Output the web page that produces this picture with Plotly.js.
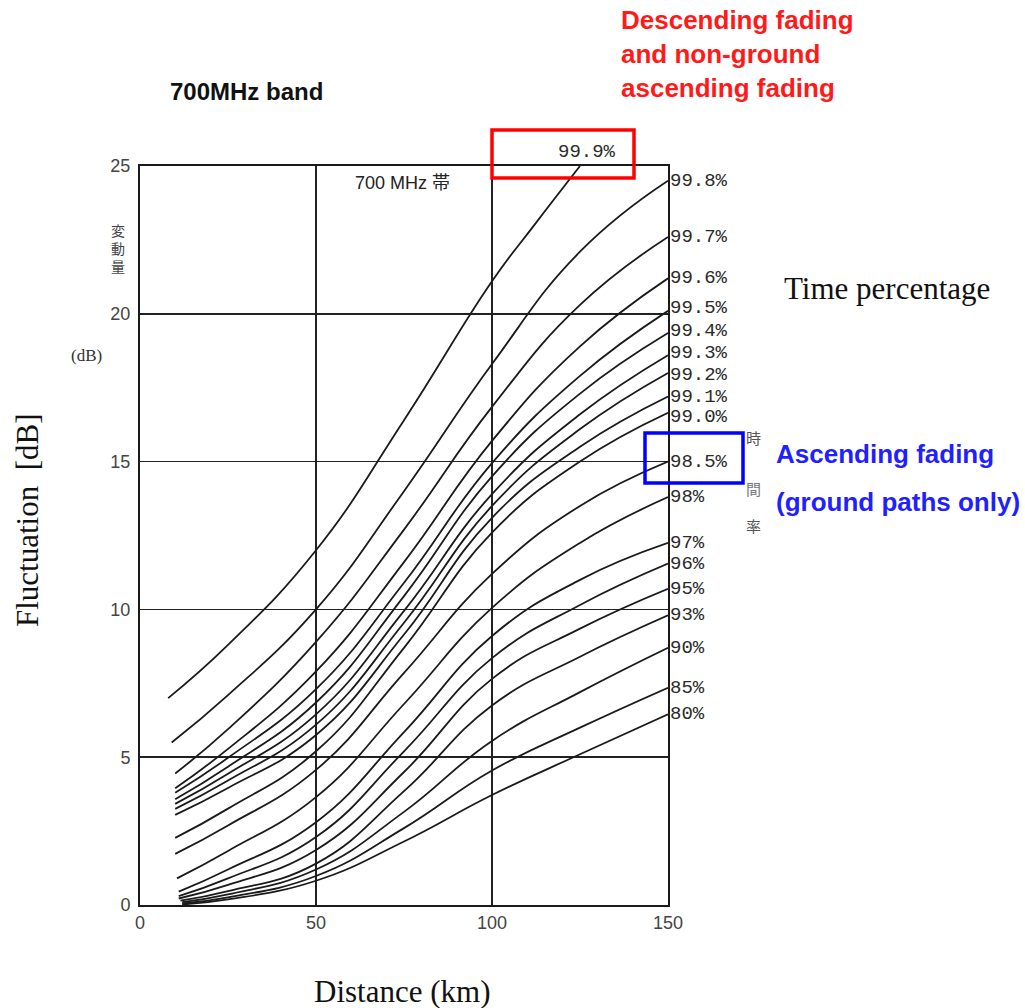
<!DOCTYPE html>
<html>
<head>
<meta charset="utf-8">
<script src="https://cdn.plot.ly/plotly-3.0.1.min.js"></script>
<style>html,body{margin:0;padding:0;background:#fff;}#chart{width:1025px;height:1008px;}</style>
</head>
<body>
<div id="chart"></div>
<script>
// ---- data ----
const percentLabels = ['99.9%','99.8%','99.7%','99.6%','99.5%','99.4%','99.3%','99.2%','99.1%','99.0%','98.5%','98%','97%','96%','95%','93%','90%','85%','80%'];
const startKm = [8, 9, 10, 10, 10, 10, 10, 10, 10, 10, 10, 10.5, 11, 11, 11, 11.5, 12, 12, 12];
const distKm = [25, 50, 75, 100, 125, 150];
const dist999 = [8, 25, 50, 75, 100, 112, 125];

const fl999 = [7.0, 8.8, 12.0, 16.4, 21.1, 23.0, 25.0];
const fl998 = [5.5, 7.1, 10.0, 14.0, 18.3, 22.1, 24.5];
const fl997 = [4.45, 5.95, 8.9, 12.7, 16.85, 20.3, 22.6];
const fl996 = [3.95, 5.28, 7.9, 11.6, 15.7, 18.9, 21.2];
const fl995 = [3.8, 4.98, 7.3, 10.9, 14.95, 17.9, 20.1];
const fl994 = [3.58, 4.68, 6.85, 10.45, 14.5, 17.3, 19.35];
const fl993 = [3.42, 4.44, 6.45, 9.95, 13.9, 16.6, 18.6];
const fl992 = [3.25, 4.21, 6.1, 9.55, 13.5, 16.1, 18.0];
const fl991 = [3.05, 3.96, 5.75, 9.15, 13.1, 15.5, 17.2];
const fl990 = [2.27, 3.26, 5.2, 8.7, 12.6, 15.0, 16.65];
const fl985 = [1.73, 2.69, 4.57, 7.85, 11.2, 13.5, 15.0];
const fl980 = [0.9, 1.83, 3.65, 6.8, 10.05, 12.25, 13.8];
const fl970 = [0.45, 1.2, 2.8, 5.85, 9.1, 11.0, 12.25];
const fl960 = [0.3, 0.9, 2.3, 5.2, 8.35, 10.15, 11.55];
const fl950 = [0.22, 0.68, 1.86, 4.5, 7.65, 9.35, 10.7];
const fl930 = [0.15, 0.47, 1.4, 3.85, 6.75, 8.4, 9.8];
const fl900 = [0.1, 0.36, 1.2, 3.15, 5.55, 7.2, 8.7];
const fl850 = [0.05, 0.26, 0.98, 2.6, 4.55, 6.0, 7.35];
const fl800 = [0.02, 0.19, 0.82, 2.15, 3.72, 5.1, 6.45];

const seriesVals = [fl999, fl998, fl997, fl996, fl995, fl994, fl993, fl992, fl991, fl990, fl985, fl980, fl970, fl960, fl950, fl930, fl900, fl850, fl800];

// ---- build traces ----
const traces = seriesVals.map((vals, i) => ({
  type: 'scatter',
  mode: 'lines',
  x: i === 0 ? dist999 : [startKm[i]].concat(distKm),
  y: vals,
  name: percentLabels[i],
  line: {color: '#1a1a1a', width: 1.8, shape: 'spline', smoothing: 1.3},
  hoverinfo: 'x+y+name'
}));

// small label nudges (pixels) so crowded right-edge labels do not collide
const labelNudge = {'99.5%': 3, '99.4%': 2, '99.3%': 2, '99.2%': -2, '99.0%': -4};

const monoFont = {family: 'Liberation Mono, DejaVu Sans Mono, monospace', size: 19, color: '#2a2a2a'};
const annotations = [];
seriesVals.forEach((vals, i) => {
  if (i === 0) {
    annotations.push({x: 127, y: 25, xref: 'x', yref: 'y', text: percentLabels[0], showarrow: false,
      xanchor: 'center', yanchor: 'middle', yshift: 14, font: monoFont});
  } else {
    annotations.push({x: 150, y: vals[vals.length - 1], xref: 'x', yref: 'y', text: percentLabels[i], showarrow: false,
      xanchor: 'left', yanchor: 'middle', xshift: 0, yshift: labelNudge[percentLabels[i]] || 0, font: monoFont});
  }
});

const px = v => (v - 140) / 528;
const py = v => (905 - v) / 739;

annotations.push(
  {x: px(246), y: py(92), xref: 'paper', yref: 'paper', text: '<b>700MHz band</b>', showarrow: false,
   font: {family: 'Liberation Sans, Arial, sans-serif', size: 24, color: '#111'}, xanchor: 'center', yanchor: 'middle'},
  {x: px(619), y: py(54), xref: 'paper', yref: 'paper', text: '<b>Descending fading<br>and non-ground<br>ascending fading</b>', showarrow: false,
   align: 'left', xanchor: 'left', yanchor: 'middle',
   font: {family: 'Liberation Sans, Arial, sans-serif', size: 26, color: '#ff1a1a'}},
  {x: px(774), y: py(454), xref: 'paper', yref: 'paper', text: '<b>Ascending fading</b>', showarrow: false,
   xanchor: 'left', yanchor: 'middle', font: {family: 'Liberation Sans, Arial, sans-serif', size: 26, color: '#1f1fff'}},
  {x: px(774), y: py(502), xref: 'paper', yref: 'paper', text: '<b>(ground paths only)</b>', showarrow: false,
   xanchor: 'left', yanchor: 'middle', font: {family: 'Liberation Sans, Arial, sans-serif', size: 26, color: '#1f1fff'}},
  {x: px(782), y: py(288), xref: 'paper', yref: 'paper', text: 'Time percentage', showarrow: false,
   xanchor: 'left', yanchor: 'middle', font: {family: 'Liberation Serif, Times New Roman, serif', size: 31, color: '#111'}},
  {x: px(402), y: py(992), xref: 'paper', yref: 'paper', text: 'Distance (km)', showarrow: false,
   xanchor: 'center', yanchor: 'middle', font: {family: 'Liberation Serif, Times New Roman, serif', size: 31, color: '#111'}},
  {x: px(27), y: py(520), xref: 'paper', yref: 'paper', text: 'Fluctuation\u00a0\u00a0[dB]', showarrow: false, textangle: -90,
   xanchor: 'center', yanchor: 'middle', font: {family: 'Liberation Serif, Times New Roman, serif', size: 31, color: '#111'}},
  {x: px(86), y: py(355), xref: 'paper', yref: 'paper', text: '(dB)', showarrow: false,
   xanchor: 'center', yanchor: 'middle', font: {family: 'Liberation Serif, Times New Roman, serif', size: 17, color: '#333'}},
  {x: px(118), y: py(248), xref: 'paper', yref: 'paper', text: '変<br>動<br>量', showarrow: false,
   xanchor: 'center', yanchor: 'middle', font: {family: 'Noto Sans CJK JP, sans-serif', size: 14, color: '#444'}},
  {x: px(402), y: py(183), xref: 'paper', yref: 'paper', text: '700 MHz 帯', showarrow: false,
   xanchor: 'center', yanchor: 'middle', font: {family: 'Liberation Sans, Noto Sans CJK JP, sans-serif', size: 18, color: '#222'}},
  {x: px(753), y: py(437), xref: 'paper', yref: 'paper', text: '時', showarrow: false,
   xanchor: 'center', yanchor: 'middle', font: {family: 'Noto Sans CJK JP, sans-serif', size: 15, color: '#555'}},
  {x: px(753), y: py(488), xref: 'paper', yref: 'paper', text: '間', showarrow: false,
   xanchor: 'center', yanchor: 'middle', font: {family: 'Noto Sans CJK JP, sans-serif', size: 15, color: '#777'}},
  {x: px(753), y: py(525), xref: 'paper', yref: 'paper', text: '率', showarrow: false,
   xanchor: 'center', yanchor: 'middle', font: {family: 'Noto Sans CJK JP, sans-serif', size: 15, color: '#555'}}
);

const shapes = [
  {type: 'rect', xref: 'paper', yref: 'paper', x0: px(492), x1: px(634), y0: py(178), y1: py(130),
   line: {color: '#ff0000', width: 3.5}, fillcolor: 'rgba(0,0,0,0)'},
  {type: 'rect', xref: 'paper', yref: 'paper', x0: px(645), x1: px(743), y0: py(483), y1: py(433),
   line: {color: '#0000ff', width: 3.5}, fillcolor: 'rgba(0,0,0,0)'}
];

const tickFont = {family: 'Liberation Sans, Arial, sans-serif', size: 18, color: '#444'};
const layout = {
  width: 1025, height: 1008,
  margin: {l: 140, r: 357, t: 166, b: 103, pad: 0},
  paper_bgcolor: '#ffffff', plot_bgcolor: '#ffffff',
  showlegend: false,
  xaxis: {
    range: [0, 150], tickvals: [0, 50, 100, 150], ticktext: ['0', '50', '100', '150'],
    showgrid: true, gridcolor: '#222', gridwidth: 1.6, zeroline: false,
    showline: true, linecolor: '#1a1a1a', linewidth: 2, mirror: true,
    ticks: '', tickfont: tickFont, fixedrange: true
  },
  yaxis: {
    range: [0, 25], tickvals: [0, 5, 10, 15, 20, 25], ticktext: ['0', '5', '10', '15', '20', '25'],
    showgrid: true, gridcolor: '#222', gridwidth: 1.6, zeroline: false,
    showline: true, linecolor: '#1a1a1a', linewidth: 2, mirror: true,
    ticks: '', tickfont: tickFont, ticklabelstandoff: 4, fixedrange: true
  },
  annotations: annotations,
  shapes: shapes
};

Plotly.newPlot('chart', traces, layout, {displayModeBar: false, staticPlot: true});
</script>
</body>
</html>
